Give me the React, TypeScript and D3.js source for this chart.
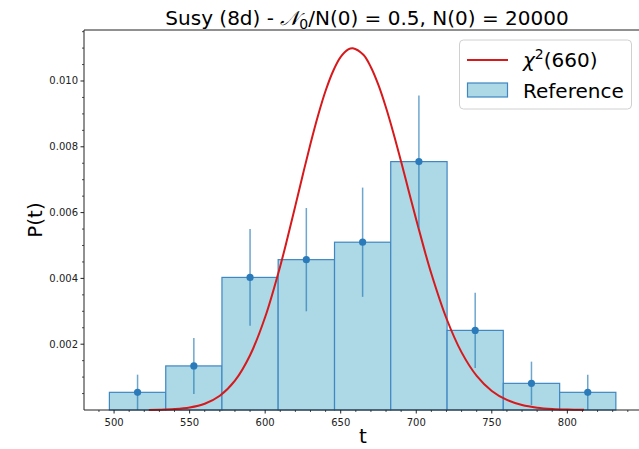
import React from "react";
import * as d3 from "d3";

// Histogram bin edges (t)
const binEdges = [496.9, 534.2, 571.4, 608.6, 645.9, 683.1, 720.4, 757.6, 794.9, 832.1];
// Reference density per bin
const density = [0.000537, 0.00134, 0.00403, 0.00457, 0.0051, 0.00755, 0.00242, 0.00081, 0.000537];
// Error bar half-lengths
const errors = [0.000537, 0.00085, 0.00147, 0.00157, 0.00166, 0.00201, 0.00114, 0.00066, 0.000537];
// chi2(660) curve
const curveT = [523, 530, 540, 550, 560, 570, 580, 590, 600, 610, 615, 620, 625, 630, 635, 640, 645, 650, 655, 658, 665, 670, 675, 680, 685, 690, 695, 700, 705, 710, 720, 730, 740, 750, 760, 770, 780, 790, 800, 811];
const curveP = [0.0000035, 0.0000084, 0.0000267, 0.0000752, 0.00019, 0.000433, 0.000891, 0.001664, 0.002826, 0.00438, 0.005275, 0.006212, 0.007167, 0.008093, 0.008951, 0.009702, 0.010304, 0.010731, 0.010959, 0.010997, 0.010796, 0.010418, 0.009872, 0.009186, 0.008398, 0.007544, 0.00666, 0.005781, 0.004935, 0.004141, 0.002781, 0.001752, 0.001038, 0.000579, 0.000305, 0.000151, 0.0000712, 0.0000317, 0.0000134, 0.000005];
// Tick values
const xMajor = [500, 550, 600, 650, 700, 750, 800];
const yMajor = [0.002, 0.004, 0.006, 0.008, 0.01];
const yLabels = ["0.002", "0.004", "0.006", "0.008", "0.010"];

const W = 639, H = 449;
const L = 84, R = 642, T = 30, B = 410;
const FONT = "DejaVu Sans, sans-serif";

export default function App() {
  const x = d3.scaleLinear().domain([480.1, 849.4]).range([L, R]);
  const y = d3.scaleLinear().domain([0, 0.01155]).range([B, T]);

  const xMinor = d3.range(490, 850, 10).filter((v) => v % 50 !== 0 && x(v) <= W);
  const yMinor = d3.range(1, 24).map((i) => i * 0.0005).filter((v) => Math.abs(v / 0.002 - Math.round(v / 0.002)) > 1e-6 && v < 0.01155);

  const line = d3
    .line<number>()
    .x((_, i) => x(curveT[i]))
    .y((d) => y(d))
    .curve(d3.curveCatmullRom);

  const stroke = "#222";
  return (
    <svg width={W} height={H} style={{ position: "absolute", left: 0, top: 0, background: "#fff" }} fontFamily={FONT}>
      <rect x={0} y={0} width={W} height={H} fill="#fff" />
      {/* bars */}
      {density.map((d, i) => (
        <rect
          key={"b" + i}
          x={x(binEdges[i])}
          y={y(d)}
          width={x(binEdges[i + 1]) - x(binEdges[i])}
          height={y(0) - y(d)}
          fill="#add8e6"
          stroke="#3f87c2"
          strokeWidth={1.2}
        />
      ))}
      {/* chi2 curve */}
      <path d={line(curveP) || ""} fill="none" stroke="#d7191c" strokeWidth={2} />
      {/* error bars */}
      {density.map((d, i) => {
        const c = (binEdges[i] + binEdges[i + 1]) / 2;
        return (
          <g key={"e" + i}>
            <line x1={x(c)} x2={x(c)} y1={y(Math.max(0, d - errors[i]))} y2={y(d + errors[i])} stroke="#1f77b4" strokeOpacity={0.65} strokeWidth={1.5} />
            <circle cx={x(c)} cy={y(d)} r={3.6} fill="#2b7bba" />
          </g>
        );
      })}
      {/* axes spines */}
      <line x1={L} x2={L} y1={T} y2={B} stroke={stroke} strokeWidth={1} />
      <line x1={L} x2={W} y1={B} y2={B} stroke={stroke} strokeWidth={1} />
      <line x1={L} x2={W} y1={T} y2={T} stroke={stroke} strokeWidth={1} />
      {/* x ticks */}
      {xMajor.map((v) => (
        <g key={"xt" + v}>
          <line x1={x(v)} x2={x(v)} y1={B} y2={B + 3.5} stroke={stroke} />
          <text x={x(v)} y={B + 16} fontSize={10} textAnchor="middle" fill="#222">{v}</text>
        </g>
      ))}
      {xMinor.map((v) => (
        <line key={"xm" + v} x1={x(v)} x2={x(v)} y1={B} y2={B + 2} stroke={stroke} strokeWidth={0.8} />
      ))}
      {/* y ticks */}
      {yMajor.map((v, i) => (
        <g key={"yt" + i}>
          <line x1={L - 3.5} x2={L} y1={y(v)} y2={y(v)} stroke={stroke} />
          <text x={L - 6} y={y(v) + 3.5} fontSize={10} textAnchor="end" fill="#222">{yLabels[i]}</text>
        </g>
      ))}
      {yMinor.map((v, i) => (
        <line key={"ym" + i} x1={L - 2} x2={L} y1={y(v)} y2={y(v)} stroke={stroke} strokeWidth={0.8} />
      ))}
      {/* axis labels */}
      <text x={363} y={443} fontSize={20} textAnchor="middle" fill="#000">t</text>
      <text transform={`translate(42,${(T + B) / 2}) rotate(-90)`} fontSize={20} textAnchor="middle" fill="#000">P(t)</text>
      {/* title */}
      <text x={367} y={25} fontSize={20} textAnchor="middle" fill="#000">
        Susy (8d) - <tspan fontStyle="italic">𝒩</tspan>
        <tspan dy={4} fontSize={14}>0</tspan>
        <tspan dy={-4}>/N(0) = 0.5, N(0) = 20000</tspan>
      </text>
      {/* legend */}
      <g>
        <rect x={459.5} y={40} width={172} height={69} rx={4} fill="#fff" fillOpacity={0.8} stroke="#d0d0d0" strokeWidth={1} />
        <line x1={467} x2={508} y1={60} y2={60} stroke="#d7191c" strokeWidth={2} />
        <text x={523} y={67} fontSize={20} fill="#000">
          <tspan fontStyle="italic">χ</tspan>
          <tspan dy={-8} fontSize={14}>2</tspan>
          <tspan dy={8}>(660)</tspan>
        </text>
        <rect x={467.5} y={83} width={40} height={14} fill="#add8e6" stroke="#3f87c2" strokeWidth={1.2} />
        <text x={523} y={98} fontSize={20} fill="#000">Reference</text>
      </g>
    </svg>
  );
}
